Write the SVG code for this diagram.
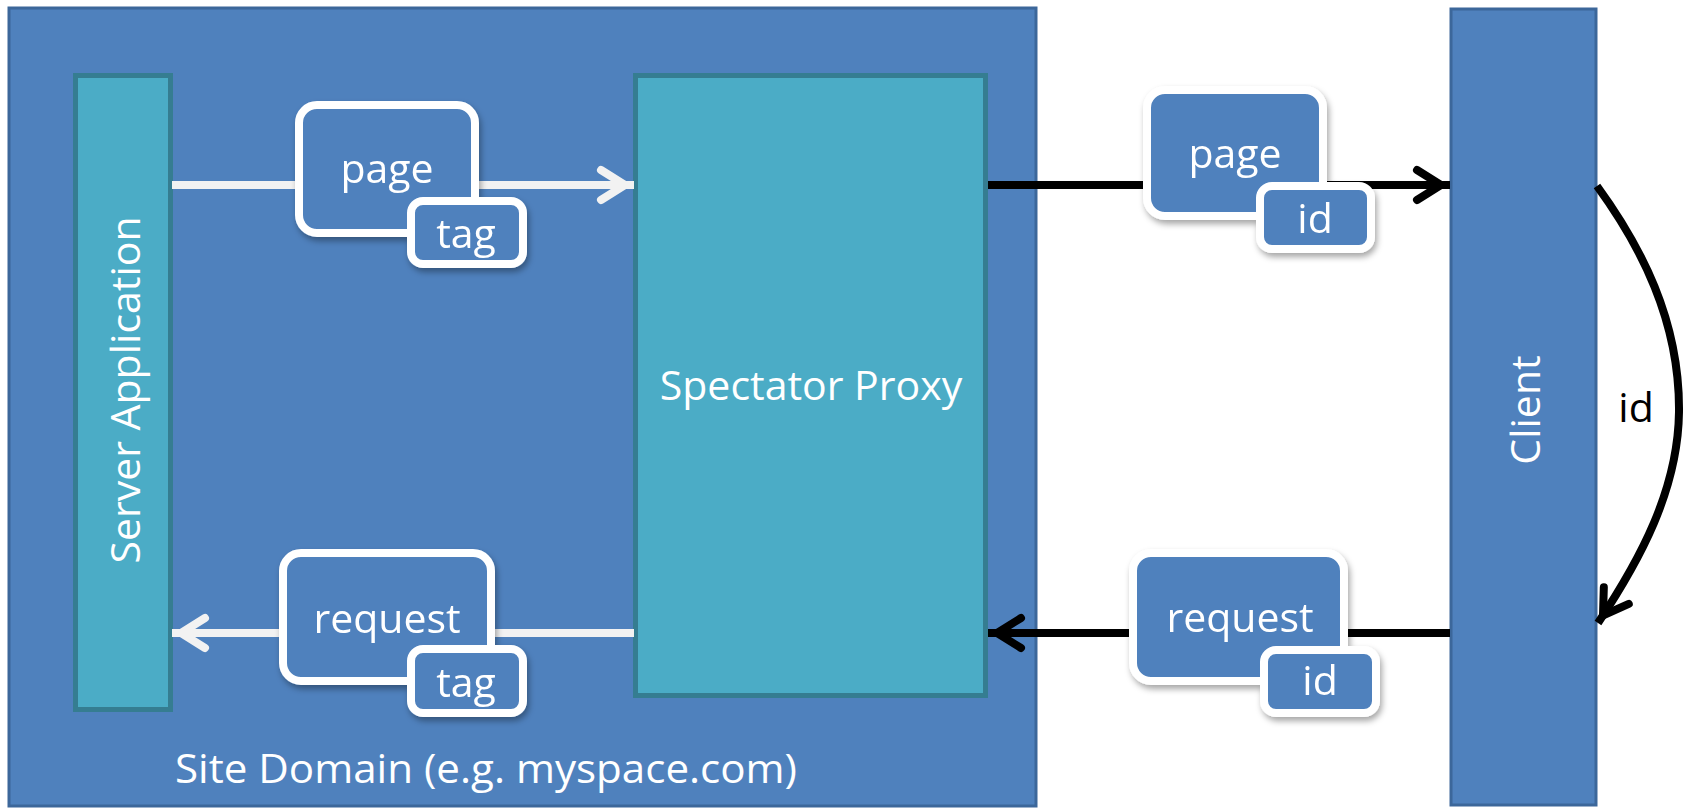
<svg xmlns="http://www.w3.org/2000/svg" width="1685" height="808" viewBox="0 0 1685 808">
  <style>
    .lbl { font-family: "Open Sans", "Noto Sans", "Liberation Sans", sans-serif; font-size: 41px; fill: #ffffff; text-anchor: middle; }
    .domain { fill: #4f81bd; stroke: #3c679a; stroke-width: 3; }
    .teal { fill: #4bacc6; stroke: #357d91; stroke-width: 5; }
    .msg { fill: #4f81bd; stroke: #ffffff; stroke-width: 8; }
    .wline { fill: none; stroke: #f2f2f2; stroke-width: 8; }
    .bline { fill: none; stroke: #000000; stroke-width: 8; }
  </style>
  <defs>
    <filter id="sh" x="-20%" y="-20%" width="150%" height="160%">
      <feDropShadow dx="2" dy="4" stdDeviation="3" flood-color="#000000" flood-opacity="0.35"/>
    </filter>
    <marker id="ahW" markerUnits="userSpaceOnUse" markerWidth="60" markerHeight="60" refX="0" refY="0" orient="auto" overflow="visible">
      <path d="M-33,-15 L-9,0 L-33,15" fill="none" stroke="#f2f2f2" stroke-width="8" stroke-linecap="round" stroke-linejoin="miter"/>
    </marker>
    <marker id="ahB" markerUnits="userSpaceOnUse" markerWidth="60" markerHeight="60" refX="0" refY="0" orient="auto" overflow="visible">
      <path d="M-33,-15 L-9,0 L-33,15" fill="none" stroke="#000000" stroke-width="8" stroke-linecap="round" stroke-linejoin="miter"/>
    </marker>
  </defs>

  <rect width="1685" height="808" fill="#ffffff"/>

  <g id="site-domain">
    <rect class="domain" x="9" y="8" width="1027" height="798"/>
    <text class="lbl" x="175" y="783" style="text-anchor:start" textLength="622" lengthAdjust="spacingAndGlyphs">Site Domain (e.g. myspace.com)</text>
  </g>

  <g id="server-application">
    <rect class="teal" x="75.5" y="75.5" width="95" height="634"/>
    <text class="lbl" transform="translate(140,390) rotate(-90)" x="0" y="0">Server Application</text>
  </g>

  <g id="spectator-proxy">
    <rect class="teal" x="635.5" y="75.5" width="350" height="620"/>
    <text class="lbl" x="811" y="400">Spectator Proxy</text>
  </g>

  <g id="client">
    <rect class="domain" x="1451" y="9" width="145" height="796"/>
    <text class="lbl" transform="translate(1540,410) rotate(-90)" x="0" y="0">Client</text>
  </g>

  <g id="connectors">
    <path class="wline" d="M172,185 L634,185" marker-end="url(#ahW)"/>
    <path class="bline" d="M988,185 L1450,185" marker-end="url(#ahB)"/>
    <path class="bline" d="M1597,186 C1640,245 1680,320 1679,412 C1678,490 1640,560 1598,623" marker-end="url(#ahB)"/>
    <path class="bline" d="M1450,633 L988,633" marker-end="url(#ahB)"/>
    <path class="wline" d="M634,633 L172,633" marker-end="url(#ahW)"/>
    <text x="1636" y="422" style="font-family:'Open Sans','Noto Sans','Liberation Sans',sans-serif;font-size:41px;fill:#000000;text-anchor:middle">id</text>
  </g>

  <g id="msg-page-tag" filter="url(#sh)">
    <rect class="msg" x="299" y="105" width="176" height="128" rx="18"/>
    <text class="lbl" x="387" y="183">page</text>
    <rect class="msg" x="411" y="201" width="112" height="63" rx="12"/>
    <text class="lbl" x="466" y="248">tag</text>
  </g>

  <g id="msg-request-tag" filter="url(#sh)">
    <rect class="msg" x="283" y="553" width="208" height="128" rx="18"/>
    <text class="lbl" x="387" y="633">request</text>
    <rect class="msg" x="411" y="649" width="112" height="64" rx="12"/>
    <text class="lbl" x="466" y="697">tag</text>
  </g>

  <g id="msg-page-id" filter="url(#sh)">
    <rect class="msg" x="1147" y="90" width="176" height="126" rx="18"/>
    <text class="lbl" x="1235" y="168">page</text>
    <rect class="msg" x="1260" y="186" width="111" height="63" rx="12"/>
    <text class="lbl" x="1315" y="233">id</text>
  </g>

  <g id="msg-request-id" filter="url(#sh)">
    <rect class="msg" x="1133" y="553" width="211" height="128" rx="18"/>
    <text class="lbl" x="1240" y="632">request</text>
    <rect class="msg" x="1264" y="650" width="112" height="63" rx="12"/>
    <text class="lbl" x="1320" y="695">id</text>
  </g>
</svg>
